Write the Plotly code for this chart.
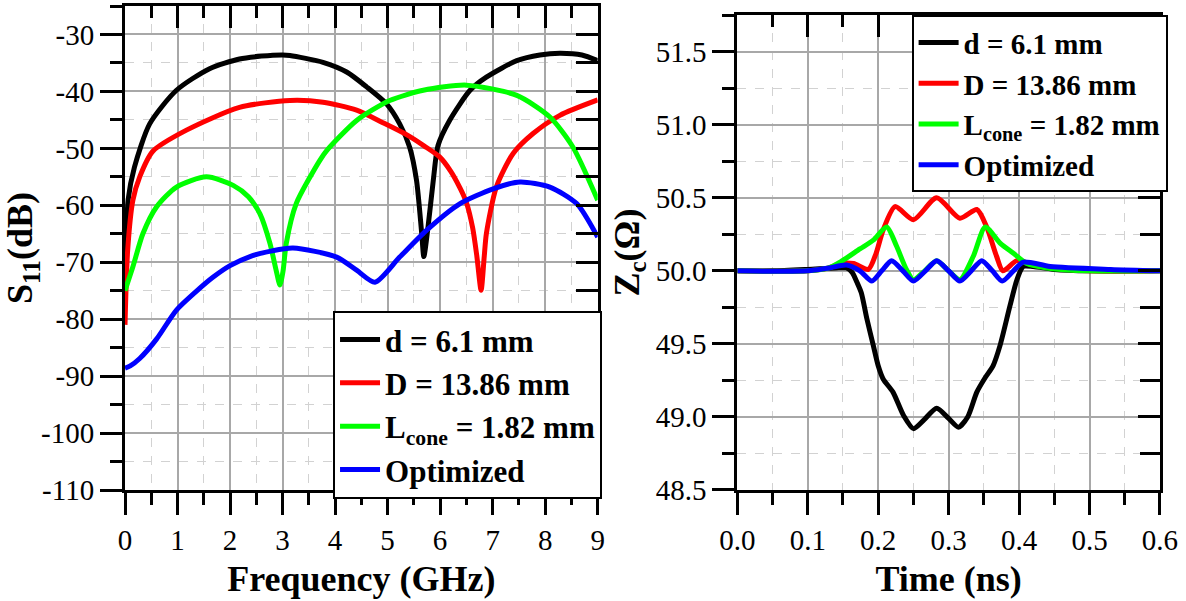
import plotly.graph_objects as go

FONT = "Liberation Serif"

# ---------------- Left panel: S11 vs frequency ----------------
freq_d = [0, 0.02, 0.06, 0.18, 0.47, 0.98, 1.61, 2.18, 2.6, 3.0, 3.14, 3.77, 4.22, 4.6, 4.98, 5.23, 5.42, 5.55, 5.65, 5.69, 5.77, 5.87, 5.96, 6.18, 6.57, 6.88, 7.46, 7.9, 8.28, 8.7, 9.0]
s11_d = [-76, -68, -59, -53.3, -45.7, -39.8, -36.0, -34.3, -33.8, -33.6, -33.7, -34.9, -36.6, -39.2, -42.2, -45.7, -49.8, -55.6, -65.0, -69.0, -63.8, -55.6, -49.5, -45.1, -39.8, -37.5, -34.6, -33.6, -33.3, -33.6, -34.6]

freq_D = [0, 0.05, 0.15, 0.28, 0.53, 1.17, 2.18, 3.14, 3.77, 4.41, 4.91, 5.36, 5.7, 5.99, 6.2, 6.38, 6.5, 6.62, 6.7, 6.78, 6.84, 6.88, 7.07, 7.39, 7.77, 8.28, 9.0]
s11_D = [-81, -68, -59.1, -55.0, -50.5, -46.8, -42.8, -41.6, -41.9, -43.3, -45.5, -47.6, -49.6, -51.5, -54.0, -57.0, -59.5, -64.0, -69.0, -74.9, -69.0, -65.0, -56.8, -50.9, -47.4, -44.2, -41.5]

freq_L = [0, 0.15, 0.34, 0.6, 0.98, 1.55, 2.06, 2.35, 2.57, 2.76, 2.88, 2.95, 3.01, 3.07, 3.26, 3.71, 3.84, 4.41, 5.04, 5.68, 6.5, 7.46, 8.09, 8.53, 9.0]
s11_L = [-75, -70.8, -65.0, -60.3, -56.8, -55.0, -56.5, -58.5, -61.5, -66.7, -71.5, -74.0, -71.5, -66.7, -59.7, -52.1, -50.4, -45.1, -41.6, -39.8, -38.9, -40.7, -44.5, -49.8, -59.1]

freq_opt = [0, 0.1, 0.28, 0.6, 0.98, 1.42, 1.68, 2.0, 2.38, 2.8, 3.2, 4.03, 4.41, 4.76, 5.23, 5.74, 6.38, 7.01, 7.52, 8.09, 8.6, 9.0]
s11_opt = [-88.6, -88.2, -86.9, -83.5, -78.4, -74.6, -72.6, -70.6, -69.0, -68.0, -67.5, -69.1, -71.4, -73.5, -69.1, -64.4, -59.7, -57.1, -55.9, -56.8, -59.7, -65.6]

# ---------------- Right panel: Zc vs time ----------------
t_d = [0, 0.05, 0.1, 0.14, 0.155, 0.163, 0.17, 0.176, 0.184, 0.193, 0.2, 0.207, 0.221, 0.236, 0.25, 0.265, 0.283, 0.3, 0.314, 0.327, 0.34, 0.352, 0.363, 0.373, 0.387, 0.397, 0.406, 0.42, 0.45, 0.5, 0.6]
z_d = [50.0, 50.0, 50.01, 50.02, 50.02, 49.99, 49.92, 49.85, 49.67, 49.49, 49.35, 49.26, 49.17, 49.01, 48.92, 48.98, 49.06, 48.99, 48.93, 49.0, 49.17, 49.27, 49.35, 49.49, 49.76, 49.94, 50.03, 50.03, 50.01, 50.0, 50.0]

t_D = [0, 0.1, 0.13, 0.146, 0.165, 0.186, 0.197, 0.207, 0.224, 0.25, 0.283, 0.316, 0.34, 0.354, 0.368, 0.377, 0.397, 0.42, 0.45, 0.5, 0.6]
z_D = [50.0, 50.0, 50.02, 50.05, 50.05, 50.01, 50.12, 50.28, 50.44, 50.35, 50.5, 50.36, 50.42, 50.3, 50.1, 50.0, 50.07, 50.04, 50.02, 50.0, 50.0]

t_L = [0, 0.1, 0.13, 0.146, 0.174, 0.193, 0.212, 0.226, 0.24, 0.25, 0.266, 0.283, 0.3, 0.316, 0.335, 0.352, 0.373, 0.392, 0.411, 0.44, 0.5, 0.6]
z_L = [50.0, 50.0, 50.02, 50.06, 50.15, 50.21, 50.3, 50.17, 50.01, 49.94, 50.0, 50.07, 50.0, 49.94, 50.1, 50.3, 50.19, 50.12, 50.05, 50.02, 50.0, 50.0]

t_opt = [0, 0.1, 0.13, 0.155, 0.174, 0.191, 0.205, 0.219, 0.235, 0.25, 0.267, 0.283, 0.3, 0.316, 0.332, 0.347, 0.362, 0.376, 0.392, 0.406, 0.444, 0.53, 0.6]
z_opt = [50.0, 50.0, 50.02, 50.04, 50.0, 49.93, 50.0, 50.07, 50.0, 49.93, 50.0, 50.07, 50.0, 49.93, 50.0, 50.07, 50.0, 49.93, 50.0, 50.06, 50.03, 50.01, 50.0]

names = ["<b>d = 6.1 mm</b>", "<b>D = 13.86 mm</b>", "<b>L<sub>cone</sub> = 1.82 mm</b>", "<b>Optimized</b>"]
colors = ["#000000", "#ff0000", "#00ff00", "#0000ff"]

freq_ticks = list(range(0, 10))
s11_ticks = [-110, -100, -90, -80, -70, -60, -50, -40, -30]
s11_ticktext = ["-110", "-100", "-90", "-80", "-70", "-60", "-50", "-40", "-30"]
time_ticks = [0.0, 0.1, 0.2, 0.3, 0.4, 0.5, 0.6]
z_ticks = [48.5, 49.0, 49.5, 50.0, 50.5, 51.0, 51.5]
freq_range = [0, 9]
s11_range = [-110, -25]
time_range = [0, 0.6]
z_range = [48.5, 51.75]

fig = go.Figure()
left = [(freq_d, s11_d), (freq_D, s11_D), (freq_L, s11_L), (freq_opt, s11_opt)]
right = [(t_d, z_d), (t_D, z_D), (t_L, z_L), (t_opt, z_opt)]
for (x, y), n, c in zip(left, names, colors):
    fig.add_trace(go.Scatter(x=x, y=y, name=n, mode="lines",
                             line=dict(color=c, width=5, shape="spline", smoothing=0.7),
                             xaxis="x", yaxis="y", legend="legend"))
for (x, y), n, c in zip(right, names, colors):
    fig.add_trace(go.Scatter(x=x, y=y, name=n, mode="lines",
                             line=dict(color=c, width=5, shape="spline", smoothing=0.7),
                             xaxis="x2", yaxis="y2", legend="legend2"))
# transparent copies that register the tick-only frame axes (top / right inward ticks)
for (x, y), xa, ya in [((freq_opt, s11_opt), "x3", "y"), ((freq_opt, s11_opt), "x", "y3"),
                       ((t_opt, z_opt), "x4", "y2"), ((t_opt, z_opt), "x2", "y4")]:
    fig.add_trace(go.Scatter(x=x, y=y, mode="lines", line=dict(width=0, color="rgba(0,0,0,0)"),
                             opacity=0, xaxis=xa, yaxis=ya, showlegend=False, hoverinfo="skip"))

tickfont = dict(family=FONT, size=29)
titlefont = dict(family=FONT, size=36)
GRID = "#a8a8a8"
MINGRID = "#d2d2d2"

def main_axis(domain, anchor, rng, tickvals, minor_dtick, title, ticktext=None, fmt=None, standoff=10):
    d = dict(domain=domain, anchor=anchor, range=rng, tickmode="array", tickvals=tickvals,
             ticks="outside", ticklen=22, tickwidth=3, tickcolor="black",
             showline=True, linewidth=3, linecolor="black", mirror=True,
             showgrid=True, gridcolor=GRID, gridwidth=1.5, zeroline=False,
             minor=dict(dtick=minor_dtick, tick0=0, ticks="outside", ticklen=12, tickwidth=3,
                        tickcolor="black", showgrid=True, gridcolor=MINGRID, gridwidth=1,
                        griddash="dash"),
             tickfont=tickfont, title=dict(text="<b>" + title + "</b>", font=titlefont, standoff=standoff))
    if ticktext is not None:
        d["ticktext"] = ticktext
    if fmt is not None:
        d["tickformat"] = fmt
    return d

def frame_axis(overlay, anchor, side, rng, tickvals, minor_dtick, minorlen):
    return dict(overlaying=overlay, anchor=anchor, side=side, range=rng,
                tickmode="array", tickvals=tickvals, ticks="inside", ticklen=22, tickwidth=3,
                tickcolor="black", showticklabels=False, showgrid=False, zeroline=False,
                showline=False,
                minor=dict(dtick=minor_dtick, tick0=0, ticks="inside", ticklen=minorlen,
                           tickwidth=3, tickcolor="black", showgrid=False))

# plot area: left 125, right 26, top 6, bottom 111 px
xd1 = [0.0, 0.4567]
yd1 = [0.0, 1.0]
xd2 = [0.5916, 1.0]
yd2 = [0.0, 0.981]

fig.update_layout(
    template="none",
    width=1186, height=601, margin=dict(l=125, r=26, t=6, b=111),
    font=dict(family=FONT, color="black"),
    paper_bgcolor="white", plot_bgcolor="white",
    xaxis=main_axis(xd1, "y", freq_range, freq_ticks, 0.5, "Frequency (GHz)", standoff=12),
    yaxis=main_axis(yd1, "x", s11_range, s11_ticks, 5, "S<sub>11</sub>(dB)", ticktext=s11_ticktext, standoff=6),
    xaxis2=main_axis(xd2, "y2", time_range, time_ticks, 0.05, "Time (ns)", fmt=".1f", standoff=12),
    yaxis2=main_axis(yd2, "x2", z_range, z_ticks, 0.25, "Z<sub>c</sub>(Ω)", fmt=".1f", standoff=6),
    xaxis3=frame_axis("x", "y", "top", freq_range, freq_ticks, 0.5, 12),
    yaxis3=frame_axis("y", "x", "right", s11_range, s11_ticks, 5, 22),
    xaxis4=frame_axis("x2", "y2", "top", time_range, time_ticks, 0.05, 12),
    yaxis4=frame_axis("y2", "x2", "right", z_range, z_ticks, 0.25, 20),
    legend=dict(x=0.201, y=0.370, xanchor="left", yanchor="top", bgcolor="white",
                bordercolor="black", borderwidth=2,
                font=dict(family=FONT, size=31),
                itemwidth=40, tracegroupgap=0),
    legend2=dict(x=0.760, y=0.981, xanchor="left", yanchor="top", bgcolor="white",
                 bordercolor="black", borderwidth=2,
                 font=dict(family=FONT, size=29),
                 itemwidth=40, tracegroupgap=0),
)

fig.write_html("out.html")
